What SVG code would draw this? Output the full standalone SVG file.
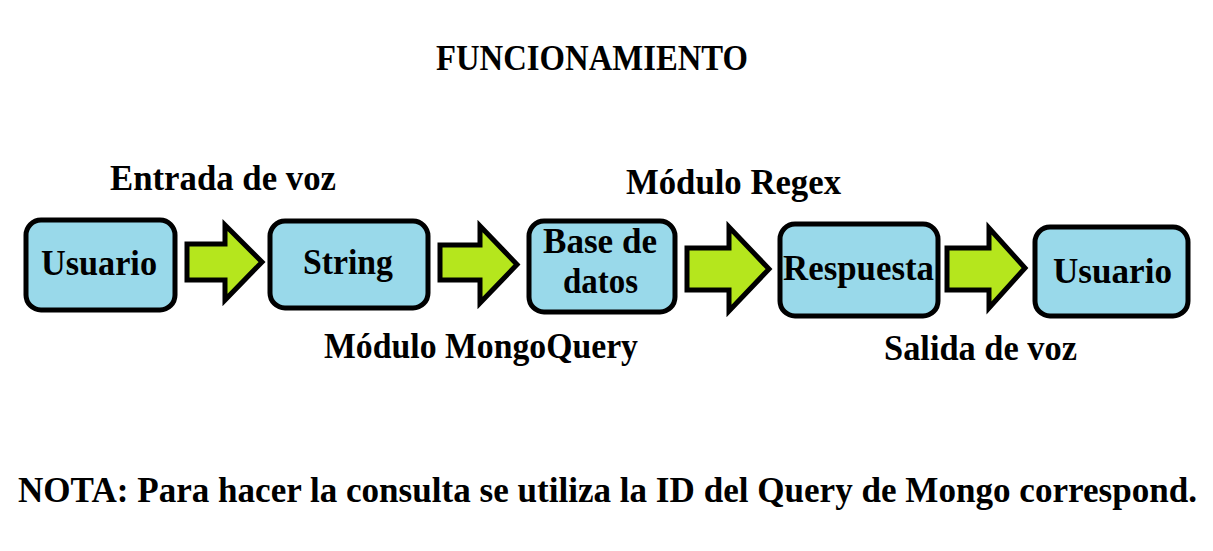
<svg xmlns="http://www.w3.org/2000/svg" width="1213" height="551" viewBox="0 0 1213 551">
<style>
.node rect{fill:#99D9EA;stroke:#000;stroke-width:5}
.arr{fill:#B5E61D;stroke:#000;stroke-width:5;stroke-linejoin:miter}
text{font-family:"Liberation Serif","DejaVu Serif",serif;font-weight:bold;fill:#000}
.lbl{font-size:35px}
.nt{font-size:35px}
</style>
<rect x="0" y="0" width="1213" height="551" fill="#fff"/>
<text class="lbl" x="436" y="70" textLength="312" lengthAdjust="spacingAndGlyphs">FUNCIONAMIENTO</text>
<text class="lbl" x="110" y="190" textLength="226" lengthAdjust="spacingAndGlyphs">Entrada de voz</text>
<text class="lbl" x="626" y="194" textLength="215" lengthAdjust="spacingAndGlyphs">Módulo Regex</text>
<text class="lbl" x="324" y="358" textLength="314" lengthAdjust="spacingAndGlyphs">Módulo MongoQuery</text>
<text class="lbl" x="884" y="360" textLength="193" lengthAdjust="spacingAndGlyphs">Salida de voz</text>
<text class="lbl" x="18" y="502" textLength="1179" lengthAdjust="spacingAndGlyphs">NOTA: Para hacer la consulta se utiliza la ID del Query de Mongo correspond.</text>
<g id="connectors">
<path class="arr" d="M187,244 H225 V225 L262,262 L225,300 V280 H187 Z"/>
<path class="arr" d="M440,245 H480 V226 L517,264.5 L480,303 V280 H440 Z"/>
<path class="arr" d="M687,248 H729 V227 L769,269 L729,311 V290 H687 Z"/>
<path class="arr" d="M947,248 H989 V228 L1025,268 L989,308 V290 H947 Z"/>
</g>
<g id="node1" class="node"><rect x="26" y="220" width="149" height="90" rx="15"/><text class="nt" x="41" y="275" textLength="116" lengthAdjust="spacingAndGlyphs">Usuario</text></g>
<g id="node2" class="node"><rect x="270" y="221" width="158" height="87" rx="15"/><text class="nt" x="303" y="274" textLength="90" lengthAdjust="spacingAndGlyphs">String</text></g>
<g id="node3" class="node"><rect x="529" y="221" width="146" height="91" rx="15"/><text class="nt" x="543" y="253" textLength="114" lengthAdjust="spacingAndGlyphs">Base de</text><text class="nt" x="563" y="293" textLength="75" lengthAdjust="spacingAndGlyphs">datos</text></g>
<g id="node4" class="node"><rect x="780" y="224" width="158" height="92" rx="15"/><text class="nt" x="783" y="280" textLength="151" lengthAdjust="spacingAndGlyphs">Respuesta</text></g>
<g id="node5" class="node"><rect x="1035" y="227" width="153" height="89" rx="15"/><text class="nt" x="1053" y="283" textLength="119" lengthAdjust="spacingAndGlyphs">Usuario</text></g>
</svg>
